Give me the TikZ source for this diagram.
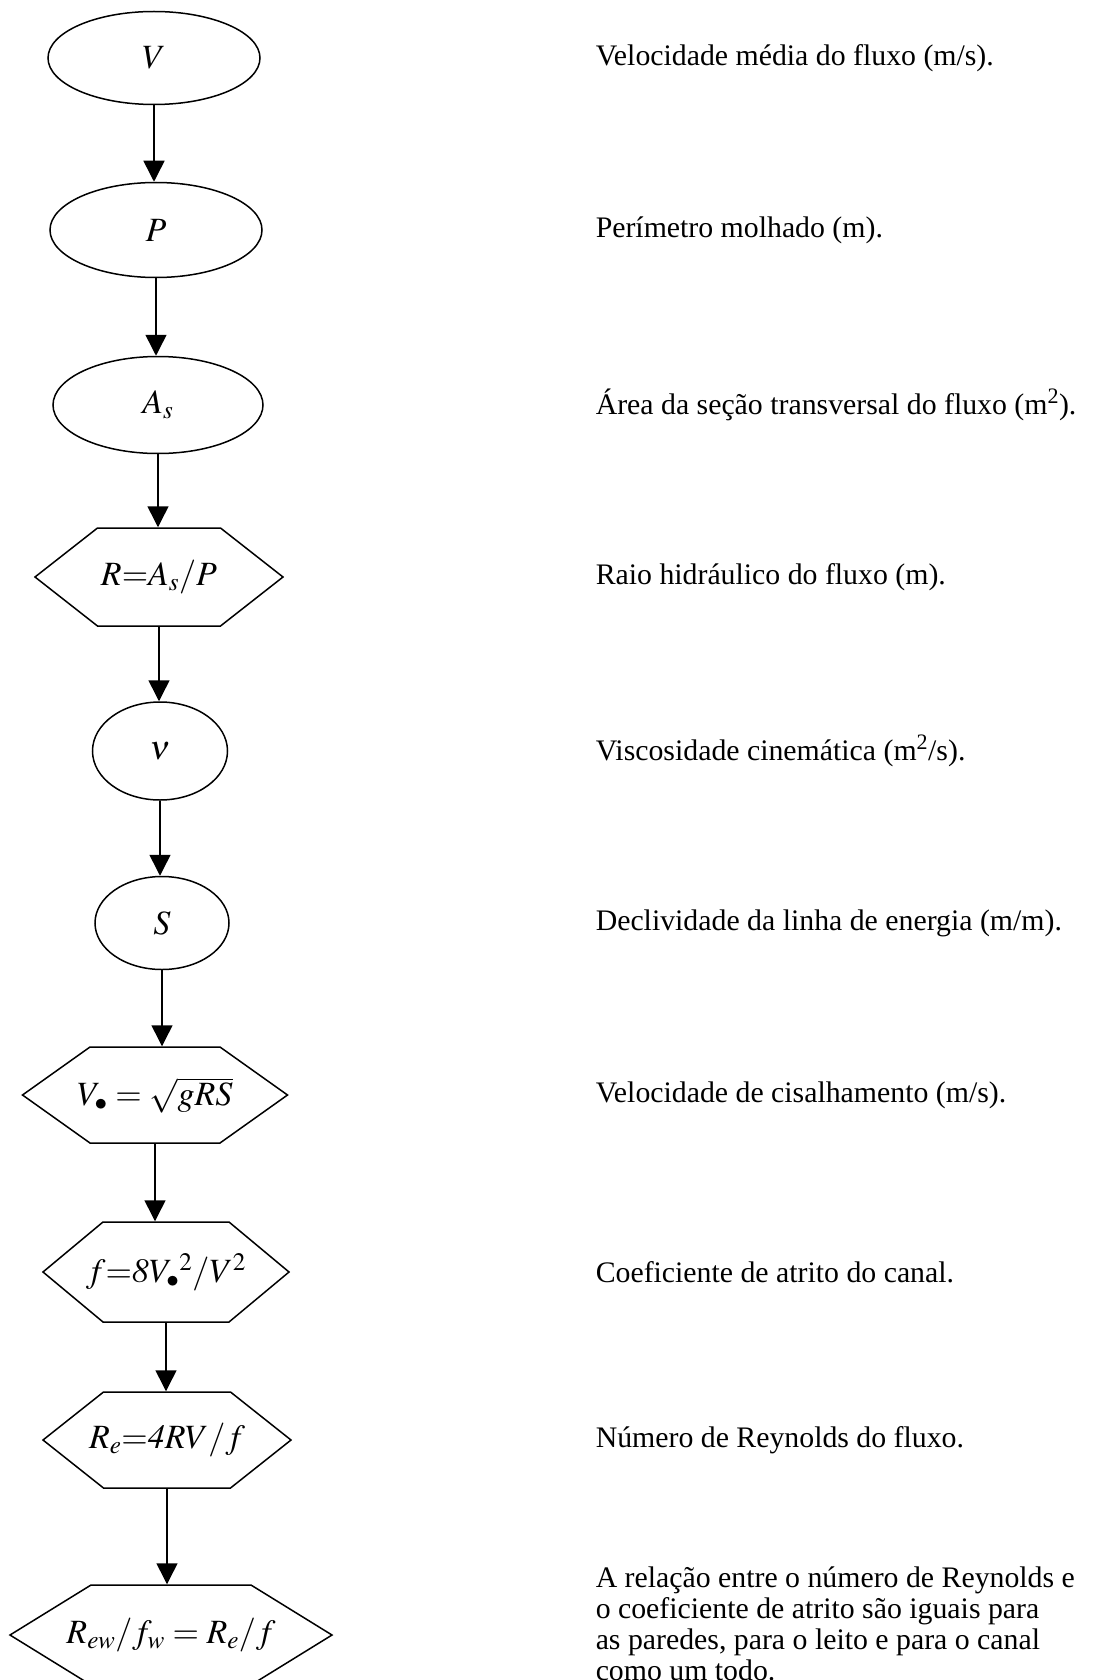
\documentclass[tikz,border=0pt]{standalone}
\usepackage{mathptmx}
\usepackage[no-math]{fontspec}
\setmainfont{Liberation Serif}
\usepackage{tikz}
\usetikzlibrary{shapes}
\usetikzlibrary{arrows.meta}
% hexagon drawn round a node: name, half top edge, half width, half height
\newcommand{\hexagono}[4]{%
  \draw ([shift={(-#2,-#4)}]#1.center) -- ([shift={(#2,-#4)}]#1.center)
    -- ([shift={(#3,0)}]#1.center) -- ([shift={(#2,#4)}]#1.center)
    -- ([shift={(-#2,#4)}]#1.center) -- ([shift={(-#3,0)}]#1.center) -- cycle;}
\newcommand{\vstar}{V_{\bullet}}
\tikzset{
  texto/.style={anchor=west,inner sep=0pt,font=\fontsize{29.8}{31}\selectfont},
  elipse/.style={shape=ellipse,draw=black,inner sep=0pt},
  caixa/.style={shape=rectangle,inner sep=0pt}
}

\begin{document}
\begin{tikzpicture}[x=1pt,y=-1pt,line width=1.5pt,
    >={Triangle[length=21pt,width=21pt]},
    every node/.append style={font=\fontsize{34}{38}\selectfont}]
    \path[fill=white] (0,0) rectangle (1111,1680);
    \useasboundingbox (0,0) rectangle (1111,1680);

    % fluxograma
    \node[elipse,minimum width=212pt,minimum height=93pt] (V) at (154,58) {$V$};
    \node[elipse,minimum width=212pt,minimum height=95pt] (P) at (156,230) {$P$};
    \node[elipse,minimum width=210pt,minimum height=97pt] (As) at (158,405) {$A_s$};
    \node[caixa,minimum height=98pt] (R) at (159,577) {$R{=}A_s/P$};
    \node[elipse,minimum width=135pt,minimum height=98pt] (nu) at (160,751) {$\nu$};
    \node[elipse,minimum width=134pt,minimum height=93pt] (S) at (162,923) {$S$};
    \node[caixa,minimum height=96pt] (Vstar) at (155,1095) {$\vstar = \sqrt{gRS}$};
    \node[caixa,minimum height=100pt] (f) at (166,1272) {$f{=}\mathit{8}\vstar{}^{2}/V^{2}$};
    \node[caixa,minimum height=96pt] (Re) at (167,1440) {$R_e{=}\mathit{4}RV/f$};
    \node[caixa,minimum height=100pt] (Rew) at (171,1635) {$R_{ew}/f_w = R_e/f$};

    \hexagono{R}{61.5}{124}{49}
    \hexagono{Vstar}{65}{132.5}{48}
    \hexagono{f}{63}{123}{50}
    \hexagono{Re}{63.5}{124}{48}
    \hexagono{Rew}{80}{161}{50}

    \path [->] (V) edge (V |- P.north);
    \path [->] (P) edge (P |- As.north);
    \path [->] (As) edge (As |- R.north);
    \path [->] (R) edge (R |- nu.north);
    \path [->] (nu) edge (nu |- S.north);
    \path [->] (S) edge (S |- Vstar.north);
    \path [->] (Vstar) edge (Vstar |- f.north);
    \path [->] (f) edge (f |- Re.north);
    \path [->] (Re) edge (Re |- Rew.north);

    % descricoes
    \node[texto] (tV) at (595,58) {Velocidade média do fluxo (m/s).};
    \node[texto] (tP) at (595,230) {Perímetro molhado (m).};
    \node[texto] (tAs) at (595,405) {Área da seção transversal do fluxo (m\textsuperscript{2}).};
    \node[texto] (tR) at (595,577) {Raio hidráulico do fluxo (m).};
    \node[texto] (tnu) at (595,751) {Viscosidade cinemática (m\textsuperscript{2}/s).};
    \node[texto] (tS) at (595,923) {Declividade da linha de energia (m/m).};
    \node[texto] (tVstar) at (595,1095) {Velocidade de cisalhamento (m/s).};
    \node[texto] (tf) at (595,1272) {Coeficiente de atrito do canal.};
    \node[texto] (tRe) at (595,1440) {Número de Reynolds do fluxo.};
    \node[texto,anchor=north west,align=left] (tRew) at (595,1566)
      {A relação entre o número de Reynolds e\\o coeficiente de atrito são iguais para\\as paredes, para o leito e para o canal\\como um todo.};
\end{tikzpicture}
\end{document}
